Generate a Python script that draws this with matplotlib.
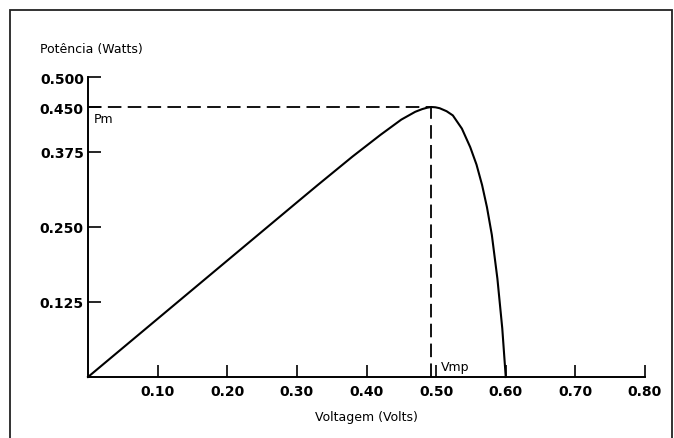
#!/usr/bin/env python3
"""plot: curva de potencia x voltagem de uma celula solar"""

import matplotlib

matplotlib.use("Agg")
import matplotlib.pyplot as plt
from matplotlib.patches import Rectangle

# pontos
voltagem = [0.0, 0.10, 0.20, 0.30, 0.33, 0.38, 0.42, 0.45, 0.47, 0.48, 0.487,
            0.493, 0.499, 0.505, 0.515, 0.524, 0.537, 0.549, 0.558, 0.566,
            0.573, 0.580, 0.588, 0.595, 0.600]
potencia = [0.0, 0.097, 0.194, 0.291, 0.320, 0.3675, 0.4035, 0.429, 0.442,
            0.4465, 0.4488, 0.450, 0.4495, 0.448, 0.443, 0.436, 0.414, 0.383,
            0.354, 0.320, 0.283, 0.237, 0.164, 0.081, 0.0]

x_ticks = [0.10, 0.20, 0.30, 0.40, 0.50, 0.60, 0.70, 0.80]
x_labels = ["0.10", "0.20", "0.30", "0.40", "0.50", "0.60", "0.70", "0.80"]
y_ticks = [0.125, 0.250, 0.375, 0.450, 0.500]
y_labels = ["0.125", "0.250", "0.375", "0.450", "0.500"]

v_mp = 0.493
p_m = 0.450


def main():
    """main: execution block"""
    fig = plt.figure(figsize=(6.74, 4.39), dpi=100)
    fig.patch.set_facecolor("white")
    ax = fig.add_axes([88 / 674, 61 / 439, 557 / 674, 300 / 439])

    ax.plot(voltagem, potencia, color="black", lw=1.5, clip_on=False,
            solid_joinstyle="round")
    dash = (7.5, 3.5)
    ax.plot([0, v_mp], [p_m, p_m], color="black", lw=1.3, dashes=dash, clip_on=False)
    ax.plot([v_mp, v_mp], [0, p_m], color="black", lw=1.3, dashes=dash, clip_on=False)

    ax.set_xlim(0, 0.8)
    ax.set_ylim(0, 0.5)
    for s in ["top", "right"]:
        ax.spines[s].set_visible(False)
    for s in ["left", "bottom"]:
        ax.spines[s].set_linewidth(1.4)

    ax.set_xticks(x_ticks)
    ax.set_xticklabels(x_labels, fontsize=10, fontweight="bold")
    ax.set_yticks(y_ticks)
    ax.set_yticklabels(y_labels, fontsize=10, fontweight="bold")
    ax.tick_params(axis="x", direction="in", length=9, width=1.2, pad=5)
    ax.tick_params(axis="y", direction="in", length=9, width=1.2, pad=3)

    ax.text(0.008, p_m - 0.008, "Pm", fontsize=9, ha="left", va="top")
    ax.text(v_mp + 0.014, 0.006, "Vmp", fontsize=9, ha="left", va="bottom")

    fig.text(40 / 674, 1 - 49 / 439, "Potência (Watts)", fontsize=9,
             ha="left", va="center")
    fig.text(366 / 674, 1 - 418 / 439, "Voltagem (Volts)", fontsize=9,
             ha="center", va="center")

    frame = Rectangle((10 / 674, -0.05), 662 / 674, 1.05 - 11 / 439,
                      transform=fig.transFigure, fill=False, lw=1.3,
                      edgecolor="#222222", clip_on=False)
    fig.add_artist(frame)

    fig.savefig("out.png", dpi=100, facecolor="white")
    plt.close(fig)


if __name__ == "__main__":
    main()
